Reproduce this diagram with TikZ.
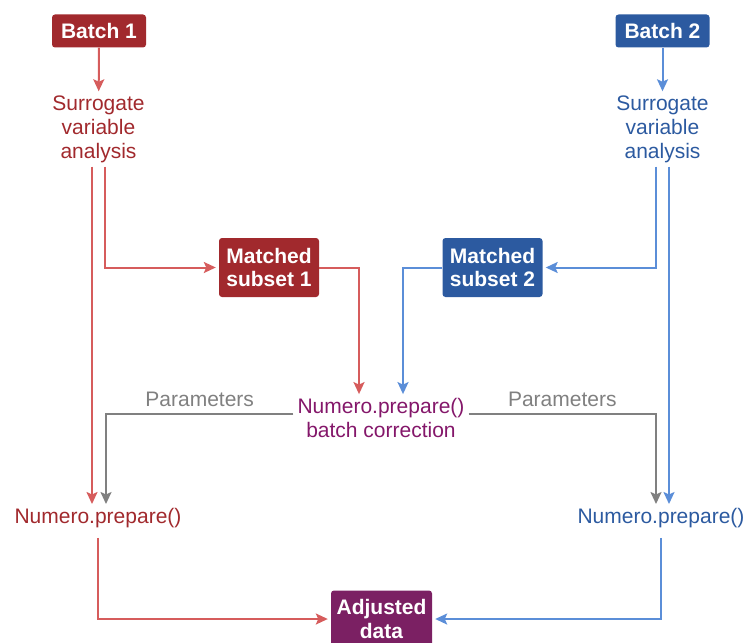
\documentclass[tikz,border=0pt]{standalone}
\usepackage{fontspec}
\setmainfont{Liberation Sans}
\usetikzlibrary{arrows.meta}

\definecolor{redbox}{HTML}{A1292D}
\definecolor{redline}{HTML}{D65C5C}
\definecolor{bluebox}{HTML}{2C5AA0}
\definecolor{blueline}{HTML}{5B8ED8}
\definecolor{purplebox}{HTML}{7B2063}
\definecolor{purpletext}{HTML}{84176A}
\definecolor{paramgray}{HTML}{808080}

\tikzset{
  box/.style={rounded corners=3pt, text=white, align=center,
    font=\bfseries\fontsize{21}{23.5}\selectfont, inner xsep=5pt, inner ysep=4pt},
  lbl/.style={align=center, font=\fontsize{21}{24}\selectfont, inner sep=4pt},
  flow/.style={line width=2pt, -{Stealth[length=12pt,width=11pt,inset=2.5pt]}},
  redflow/.style={flow, draw=redline},
  blueflow/.style={flow, draw=blueline},
  grayflow/.style={flow, draw=paramgray},
}

\begin{document}
\begin{tikzpicture}
  \useasboundingbox (0pt,0pt) rectangle (743pt,-642pt);

  %% batches
  \node[box, fill=redbox, minimum width=94pt, minimum height=33pt] (b1) at (99pt,-31pt) {Batch 1};
  \node[box, fill=bluebox, minimum width=94pt, minimum height=33pt] (b2) at (662.5pt,-31pt) {Batch 2};

  %% surrogate variable analysis
  \node[lbl, text=redbox] (sva1) at (98.5pt,-129pt) {Surrogate\\variable\\analysis};
  \node[lbl, text=bluebox] (sva2) at (662.5pt,-129pt) {Surrogate\\variable\\analysis};

  %% matched subsets
  \node[box, fill=redbox, minimum width=100pt, minimum height=59pt] (m1) at (269pt,-267.5pt) {Matched\\subset 1};
  \node[box, fill=bluebox, minimum width=100pt, minimum height=59pt] (m2) at (492.5pt,-267.5pt) {Matched\\subset 2};

  %% batch correction
  \node[lbl, text=purpletext] (corr) at (381pt,-418pt) {Numero.prepare()\\batch correction};

  %% per batch preparation
  \node[lbl, text=redbox] (prep1) at (98pt,-518pt) {Numero.prepare()};
  \node[lbl, text=bluebox] (prep2) at (661pt,-518pt) {Numero.prepare()};

  %% result
  \node[box, fill=purplebox, minimum width=101pt, minimum height=57pt] (adj) at (381.5pt,-619pt) {Adjusted\\data};

  %% batch 1 side
  \draw[redflow] (b1) -- (sva1);
  \draw[redflow] ([xshift=-6.5pt]sva1.south) -- ([xshift=-6.5pt]sva1.south |- prep1.north);
  \draw[redflow] ([xshift=6.5pt]sva1.south) |- ([xshift=-3pt]m1.west);
  \draw[redflow] (m1.east) -| ([xshift=-22pt]corr.north);

  %% batch 2 side
  \draw[blueflow] (b2) -- (sva2);
  \draw[blueflow] ([xshift=6.5pt]sva2.south) -- ([xshift=6.5pt]sva2.south |- prep2.north);
  \draw[blueflow] ([xshift=-6.5pt]sva2.south) |- ([xshift=3pt]m2.east);
  \draw[blueflow] (m2.west) -| ([xshift=22pt]corr.north);

  %% parameters
  \draw[grayflow] ([yshift=4pt]corr.west) -| ([xshift=7.5pt]sva1.south |- prep1.north)
    node[pos=0.25, above=6pt, lbl, text=paramgray, inner sep=0pt] (par1) {Parameters};
  \draw[grayflow] ([yshift=4pt]corr.east) -| ([xshift=-6.5pt]sva2.south |- prep2.north)
    node[pos=0.25, above=6pt, lbl, text=paramgray, inner sep=0pt] (par2) {Parameters};

  %% to adjusted data
  \draw[redflow] ([yshift=-6pt]prep1.south) |- ([xshift=-3pt]adj.west);
  \draw[blueflow] ([yshift=-6pt]prep2.south) |- ([xshift=3pt]adj.east);
\end{tikzpicture}
\end{document}
